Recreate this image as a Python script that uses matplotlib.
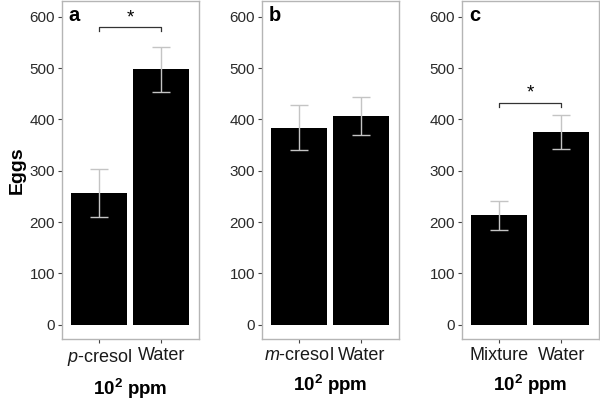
import matplotlib
matplotlib.use("Agg")
import matplotlib.pyplot as plt

plt.rcParams['font.family'] = ['Liberation Sans', 'DejaVu Sans']
plt.rcParams['mathtext.fontset'] = 'custom'
plt.rcParams['mathtext.rm'] = 'Liberation Sans'
plt.rcParams['mathtext.it'] = 'Liberation Sans:italic'
plt.rcParams['mathtext.bf'] = 'Liberation Sans:bold'

# data
panels = ['a', 'b', 'c']
labels_a = [r'$\mathit{p}$-cresol', 'Water']
labels_b = [r'$\mathit{m}$-cresol', 'Water']
labels_c = ['Mixture', 'Water']
means_a = [257, 498]
means_b = [384, 406]
means_c = [213, 375]
err_a = [47, 44]
err_b = [44, 37]
err_c = [28, 33]
signif = [True, False, True]
yticks = [0, 100, 200, 300, 400, 500, 600]

all_labels = [labels_a, labels_b, labels_c]
all_means = [means_a, means_b, means_c]
all_err = [err_a, err_b, err_c]

fig = plt.figure(figsize=(6.0, 4.03), dpi=100)
lefts = [62 / 600, 262 / 600, 462 / 600]
w = 136.7 / 600
bottom = (403 - 339) / 403
h = 338 / 403

spine_col = '#b5b5b5'
for i in range(3):
    ax = fig.add_axes([lefts[i], bottom, w, h])
    x = [1, 2]
    ax.bar(x, all_means[i], width=0.9, color='black', zorder=2)
    ax.errorbar(x, all_means[i], yerr=all_err[i], fmt='none', ecolor='#c4c4c4',
                elinewidth=1.0, capsize=6.5, capthick=1.0, zorder=3)
    ax.set_xlim(0.4, 2.6)
    ax.set_ylim(-28, 631)
    ax.set_yticks(yticks)
    ax.set_xticks(x)
    ax.set_xticklabels(all_labels[i], fontsize=13, color='#1a1a1a')
    ax.tick_params(axis='y', labelsize=11, labelcolor='#2a2a2a', length=3,
                   color='#444444', pad=2)
    ax.tick_params(axis='x', length=3, color='#444444', pad=3)
    for s in ax.spines.values():
        s.set_color(spine_col)
        s.set_linewidth(1.0)
    ax.set_xlabel(r'$\mathbf{10^{2}}$ ppm', fontsize=13.5, fontweight='bold', labelpad=6)
    if i == 0:
        ax.set_ylabel('Eggs', fontsize=14, fontweight='bold', labelpad=3)
    ax.text(0.05, 0.985, panels[i], transform=ax.transAxes, fontsize=14.5,
            fontweight='bold', va='top', ha='left')
    if signif[i]:
        top = max(m + e for m, e in zip(all_means[i], all_err[i]))
        yb = top + 38 if i == 0 else top + 25
        ax.plot([1, 1, 2, 2], [yb - 8, yb, yb, yb - 8], color='#333333', lw=0.9)
        ax.text(1.5, yb + 2, '*', ha='center', va='bottom', fontsize=13.5)

fig.savefig('out.png', dpi=100)
